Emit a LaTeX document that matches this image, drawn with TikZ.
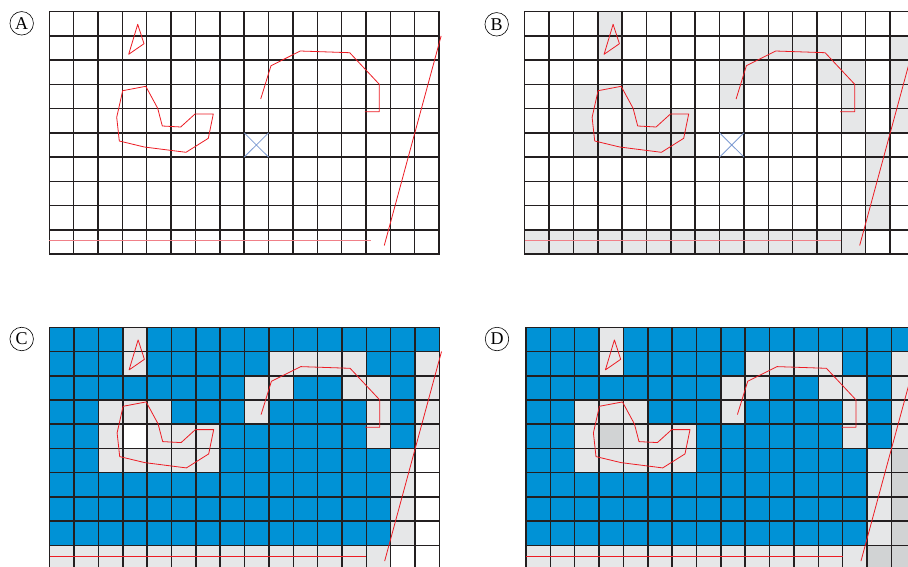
\documentclass[tikz,border=0pt]{standalone}
\usepackage{fontspec}
\setmainfont{Liberation Serif}
\definecolor{gridc}{HTML}{231F20}
\definecolor{redc}{RGB}{237,28,36}
\definecolor{pinkc}{RGB}{240,128,136}
\definecolor{bluec}{RGB}{0,146,214}
\definecolor{lgrey}{HTML}{E6E7E8}
\definecolor{dgrey}{HTML}{D1D3D4}
\definecolor{xblue}{RGB}{125,155,210}
\tikzset{
  gridln/.style={draw=gridc,line width=1.5pt,line cap=rect},
  shapeln/.style={draw=redc,line width=0.8pt,line join=round},
  pinkln/.style={draw=pinkc,line width=1.5pt},
  xln/.style={draw=xblue,line width=0.8pt},
  lbl/.style={circle,draw,line width=0.6pt,minimum size=23.5pt,inner sep=0pt,font=\fontsize{18}{18}\selectfont},
  cellgrid/.style={x=24.36pt,y=-24.23pt}
}
\def\greycells{3/0,3/1,9/1,10/1,11/1,12/1,15/1,8/2,9/2,12/2,13/2,15/2,2/3,3/3,4/3,8/3,13/3,15/3,2/4,4/4,5/4,6/4,13/4,15/4,2/5,3/5,4/5,5/5,6/5,14/5,14/6,14/7,14/8,0/9,1/9,2/9,3/9,4/9,5/9,6/9,7/9,8/9,9/9,10/9,11/9,12/9,13/9}
\def\holecells{3/4,15/5,15/6,15/7,15/8,15/9,14/9}
\newcommand\mycells[2]{\foreach \c/\r in #1 {\fill[#2] (\c,\r) rectangle ++(1,1);}}
\newcommand\mygrid{%
  \foreach \i in {0,...,16} {\draw[gridln] (\i,0) -- (\i,10);}
  \foreach \j in {0,...,10} {\draw[gridln] (0,\j) -- (16,\j);}}
\newcommand\myshapes[2]{%
  \draw[shapeln] (3.629,0.520) -- (3.888,1.321) -- (3.259,1.758) -- cycle;
  \draw[shapeln] (3.013,3.260) -- (3.96,3.079) -- (4.450,3.987) -- (4.639,4.717) -- (5.394,4.758) -- (5.981,4.222) -- (6.732,4.222) -- (6.527,5.225) -- (5.612,5.803) -- (3.900,5.584) -- (2.874,5.336) -- (2.767,4.358) -- cycle;
  \draw[shapeln] (8.678,3.603) -- (9.101,2.229) -- (10.304,1.622) -- (12.332,1.692) -- (13.547,2.996) -- (13.547,4.127) -- (12.95,4.127);
  \draw[shapeln] (16.085,1.0) -- (13.75,9.65);
  \draw[#2] (0,9.451) -- (#1,9.451);}
\newcommand\myx{\draw[xln] (8,5) -- (9,6) (9,5) -- (8,6);}
\begin{document}
\begin{tikzpicture}[x=1pt,y=-1pt]
\useasboundingbox (0,0) rectangle (908,566);
\clip (0,0) rectangle (908,566);
\fill[white] (0,0) rectangle (908,566);
% Panel A
\begin{scope}[shift={(49.3pt,-11.7pt)},cellgrid]
  \mygrid
  \myshapes{13.19}{pinkln}
  \myx
\end{scope}
% Panel B
\begin{scope}[shift={(524.7pt,-11.7pt)},cellgrid]
  \mycells{\greycells}{lgrey}
  \mygrid
  \myshapes{13}{pinkln}
  \myx
\end{scope}
% Panel C
\begin{scope}[shift={(49.7pt,-327.3pt)},cellgrid]
  \fill[bluec] (0,0) rectangle (16,10);
  \mycells{\greycells}{lgrey}
  \mycells{\holecells}{white}
  \mygrid
  \myshapes{13}{shapeln}
\end{scope}
% Panel D
\begin{scope}[shift={(526pt,-327.3pt)},cellgrid]
  \fill[bluec] (0,0) rectangle (16,10);
  \mycells{\greycells}{lgrey}
  \mycells{\holecells}{dgrey}
  \mygrid
  \myshapes{13}{shapeln}
\end{scope}
\node[lbl] (labA) at (21.7,23.3) {A};
\node[lbl] (labB) at (496.7,24.3) {B};
\node[lbl] (labC) at (21.7,339) {C};
\node[lbl] (labD) at (497,339) {D};
\end{tikzpicture}
\end{document}
